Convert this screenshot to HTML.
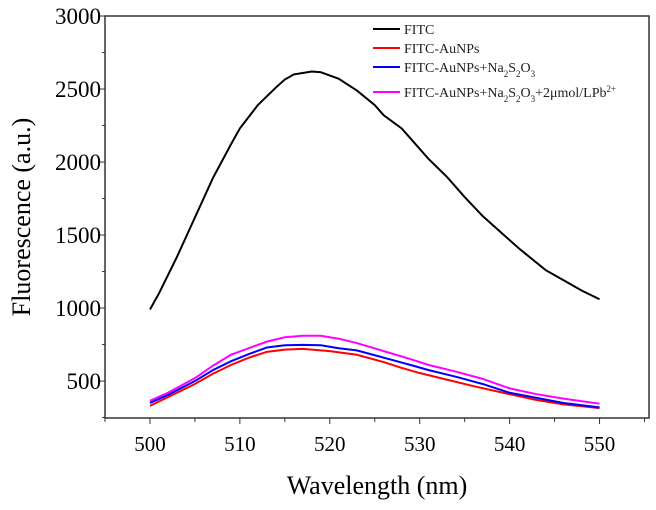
<!DOCTYPE html>
<html><head><meta charset="utf-8"><style>
body{margin:0;background:#fff}
svg text{font-family:"Liberation Serif",serif}
</style></head><body>
<svg id="c" width="656" height="505" xmlns="http://www.w3.org/2000/svg"></svg>
<script>
const xs1=[500,501,503,505,507,509,510,512,514,515,516,518,519,521,523,525,526,528,529,531,533,535,537,539,541,543,544,546,548,550];
const fitc=[990,1100,1350,1620,1890,2120,2230,2390,2510,2565,2600,2620,2615,2570,2490,2390,2320,2230,2160,2020,1900,1760,1630,1520,1410,1310,1260,1190,1120,1060];
const xsR=[500,502,505,507,509,511,513,515,517,520,523,526,528,530,533,536,540,543,546,550];
const red=[330,390,480,550,610,660,700,715,720,705,680,630,590,555,510,465,410,370,340,315];
const xsB=[500,502,505,507,509,511,513,515,517,519,521,523,526,529,531,534,537,540,543,546,550];
const blue=[350,405,500,575,635,685,730,745,748,745,725,710,660,610,575,530,480,420,385,350,320];
const magenta=[365,420,520,605,680,725,770,800,810,810,790,760,705,650,610,565,515,450,410,380,345];
const yTicks=[500,1000,1500,2000,2500,3000];
const xTicks=[500,510,520,530,540,550];
const L=105,R=649,T=16,B=418,X0=495,X1=555.5,Y0=247,Y1=3000;
const sx=v=>L+(v-X0)/(X1-X0)*(R-L), sy=v=>B-(v-Y0)/(Y1-Y0)*(B-T);
const svg=document.getElementById('c'),NS='http://www.w3.org/2000/svg';
function mk(t,a,p){const e=document.createElementNS(NS,t);for(const k in a)e.setAttribute(k,a[k]);(p||svg).appendChild(e);return e;}
let e=mk('rect',{x:L,y:T,width:R-L,height:B-T,fill:'none',stroke:'#333','stroke-width':1.5});


for(let v=250;v<=3000;v+=250){const y=sy(v);const maj=v%500==0;
 e=mk('line',{x1:L-(maj?6:3),x2:L,y1:y,y2:y,stroke:'#333'});
 
 }
yTicks.forEach(v=>{e=mk('text',{x:L-4,y:sy(v)+8,'text-anchor':'end','font-size':23});e.textContent=v;
 
 });
for(let v=495;v<=555;v+=5){const x=sx(v);const maj=v%10==0;
 e=mk('line',{x1:x,x2:x,y1:B,y2:B+(maj?6:4),stroke:'#333'});
 
 }
xTicks.forEach(v=>{e=mk('text',{x:sx(v),y:451,'text-anchor':'middle','font-size':21});e.textContent=v;
 
 });
e=mk('text',{x:377,y:494,'text-anchor':'middle','font-size':26});e.textContent='Wavelength (nm)';


e=mk('text',{x:0,y:0,'text-anchor':'middle','font-size':26,transform:'translate(30,217) rotate(-90)'});e.textContent='Fluorescence (a.u.)';


function line(xa,ya,c,n){e=mk('polyline',{points:xa.map((x,i)=>sx(x)+','+sy(ya[i])).join(' '),fill:'none',stroke:c,'stroke-width':2});
 
 }
line(xs1,fitc,'#000','fitc-line');
line(xsR,red,'#f00','fitc-aunps-line');
line(xsB,magenta,'#f0f','pb-line');
line(xsB,blue,'#00f','na2s2o3-line');
const leg=[['#000','FITC'],['#f00','FITC-AuNPs'],['#00f','FITC-AuNPs+Na<tspan baseline-shift="sub" font-size="9">2</tspan>S<tspan baseline-shift="sub" font-size="9">2</tspan>O<tspan baseline-shift="sub" font-size="9">3</tspan>'],['#f0f','FITC-AuNPs+Na<tspan baseline-shift="sub" font-size="9">2</tspan>S<tspan baseline-shift="sub" font-size="9">2</tspan>O<tspan baseline-shift="sub" font-size="9">3</tspan>+2μmol/LPb<tspan baseline-shift="super" font-size="9">2+</tspan>']];
const ly=[29,48,67,92];
leg.forEach((l,i)=>{e=mk('line',{x1:373,x2:400,y1:ly[i],y2:ly[i],stroke:l[0],'stroke-width':2});
 
 
 e=mk('text',{x:404,y:ly[i]+5,'font-size':14,fill:'#222'});e.innerHTML=l[1];
 
 });
</script>
</body></html>
